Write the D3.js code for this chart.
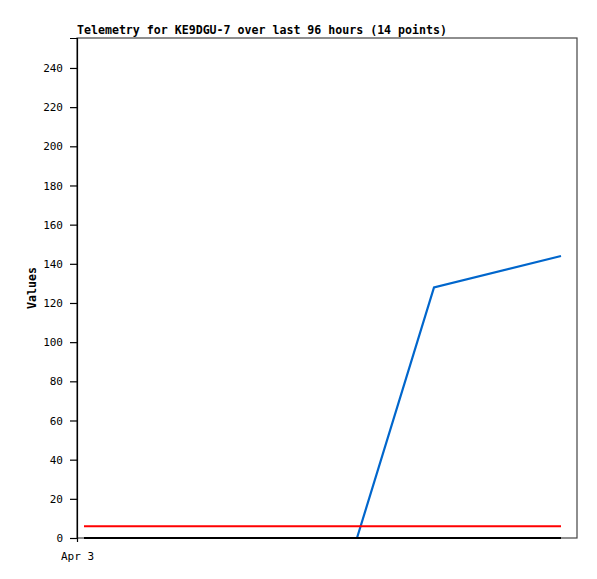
<!DOCTYPE html>
<html>
<head>
<meta charset="utf-8">
<script src="https://cdn.jsdelivr.net/npm/d3@7"></script>
<style>
  body { margin: 0; background: #fff; }
  text { font-family: "DejaVu Sans Mono", "Liberation Mono", monospace; }
</style>
</head>
<body>
<div class="chart"></div>
<script>
// Data (minutes after Apr 3 00:00)
var blueTimes = [14, 560, 714, 968];
var blueValues = [0, 0, 128, 144];
var redTimes = [14, 968];
var redValues = [6, 6];
var blackTimes = [14, 968];
var blackValues = [0, 0];
var yTicks = [0, 20, 40, 60, 80, 100, 120, 140, 160, 180, 200, 220, 240];
var xTickLabel = "Apr 3";

var svgWidth = 597;
var svgHeight = 579;
var margin = { top: 38, right: 20, bottom: 41, left: 77 };
var width = svgWidth - margin.left - margin.right;
var height = svgHeight - margin.top - margin.bottom;

var start = new Date(2024, 3, 3, 0, 0);
function toDate(m) { return new Date(start.getTime() + m * 60000); }

var svg = d3.select(".chart")
  .append("svg")
  .attr("width", svgWidth)
  .attr("height", svgHeight);

var chartGroup = svg.append("g")
  .attr("transform", `translate(${margin.left}, ${margin.top})`);

var x = d3.scaleTime()
  .domain([start, toDate(1000)])
  .range([0, width]);

var y = d3.scaleLinear()
  .domain([0, 255.3])
  .range([height, 0]);

// border (top / right / bottom)
chartGroup.append("rect")
  .attr("x", 0).attr("y", 0)
  .attr("width", width).attr("height", height)
  .attr("fill", "none")
  .attr("stroke", "#444")
  .attr("stroke-width", 1.2);

// series
var line = d3.line()
  .x(d => x(toDate(d[0])))
  .y(d => y(d[1]));

function series(times, values, color) {
  chartGroup.append("path")
    .datum(times.map((t, i) => [t, values[i]]))
    .attr("fill", "none")
    .attr("stroke", color)
    .attr("stroke-width", 2.2)
    .attr("d", line);
}
series(blueTimes, blueValues, "#0066cc");
series(redTimes, redValues, "#ff0000");
series(blackTimes, blackValues, "#000000");

// left axis
var leftAxis = d3.axisLeft(y).tickValues(yTicks).tickSize(7).tickPadding(7);
var gy = chartGroup.append("g").call(leftAxis);
gy.select(".domain").attr("stroke", "#000").attr("stroke-width", 1.2);
gy.selectAll("line").attr("stroke", "#000").attr("stroke-width", 1.2);
gy.selectAll("text").attr("font-size", "11px").attr("fill", "#000");

// bottom axis
var bottomAxis = d3.axisBottom(x)
  .tickValues([start])
  .tickFormat(() => xTickLabel)
  .tickSize(4)
  .tickPadding(10);
var gx = chartGroup.append("g")
  .attr("transform", `translate(0, ${height})`)
  .call(bottomAxis);
gx.select(".domain").remove();
gx.selectAll("line").attr("stroke", "#000").attr("stroke-width", 1.2);
gx.selectAll("text").attr("font-size", "11px").attr("fill", "#000");

// title
svg.append("text")
  .attr("x", margin.left)
  .attr("y", 34)
  .attr("font-size", "11.6px")
  .attr("font-weight", "bold")
  .text("Telemetry for KE9DGU-7 over last 96 hours (14 points)");

// y label
svg.append("text")
  .attr("transform", `translate(36, ${margin.top + height / 2}) rotate(-90)`)
  .attr("text-anchor", "middle")
  .attr("font-size", "11.6px")
  .attr("font-weight", "bold")
  .text("Values");
</script>
</body>
</html>
